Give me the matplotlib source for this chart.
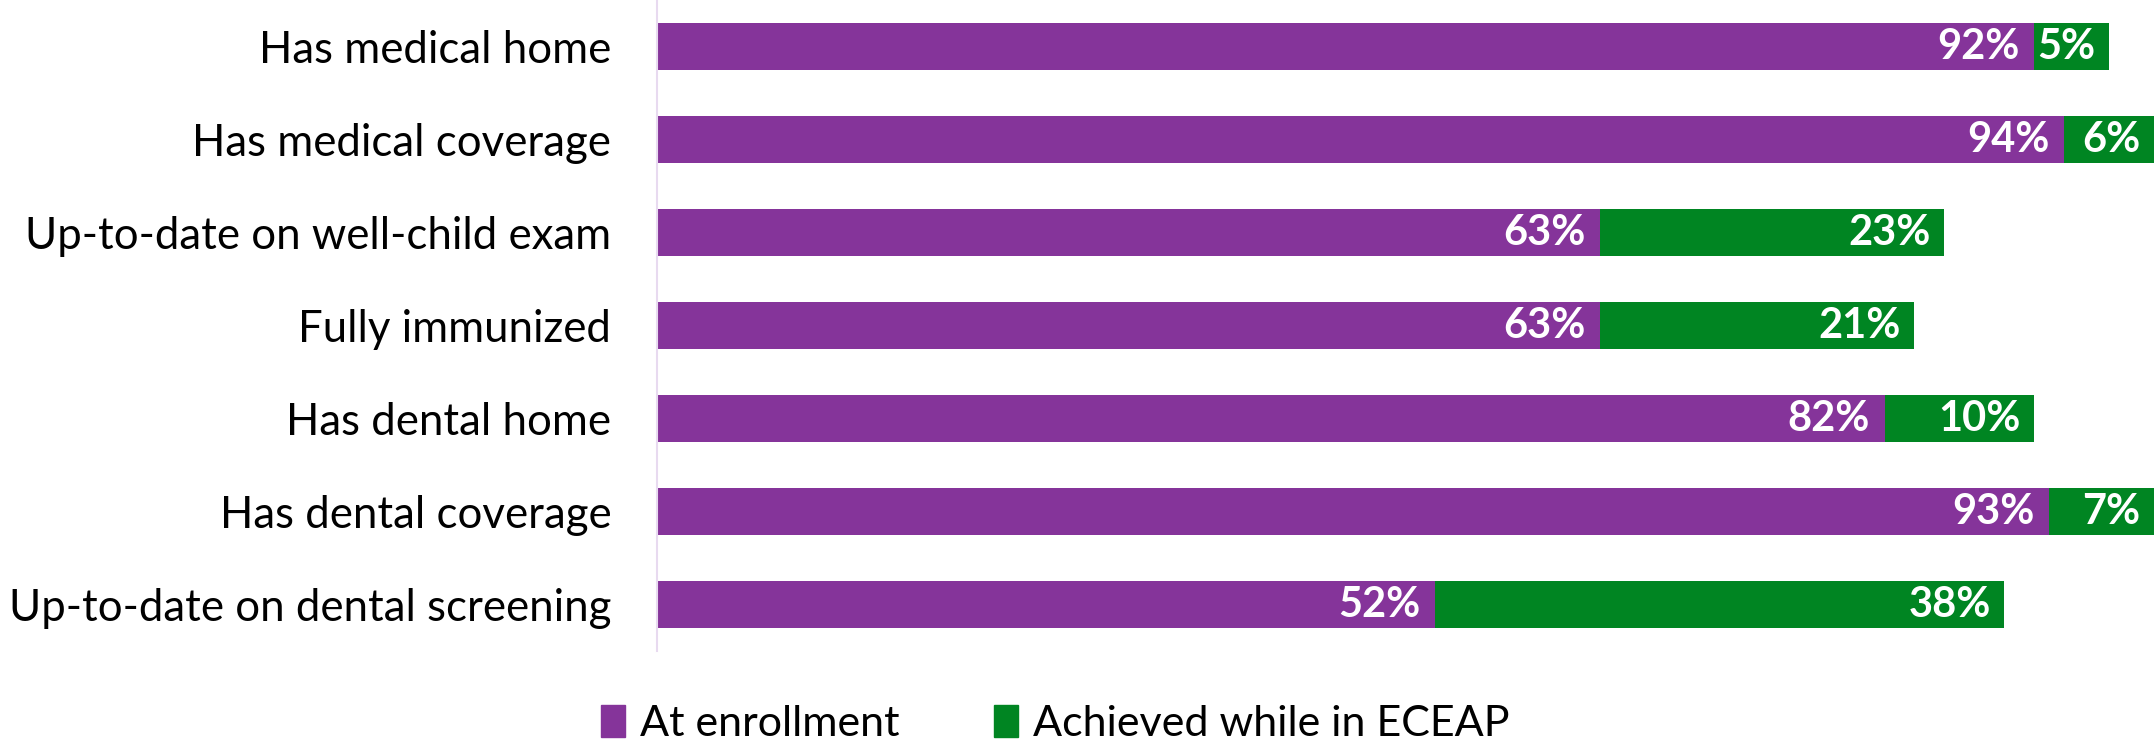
import matplotlib.pyplot as plt
from matplotlib.patches import Patch

plt.rcParams['font.family'] = ['Lato', 'DejaVu Sans']

categories = ['Has medical home', 'Has medical coverage', 'Up-to-date on well-child exam',
              'Fully immunized', 'Has dental home', 'Has dental coverage',
              'Up-to-date on dental screening']
at_enrollment = [92, 94, 63, 63, 82, 93, 52]
achieved = [5, 6, 23, 21, 10, 7, 38]

purple = '#85349A'
green = '#008522'

fig = plt.figure(figsize=(21.54, 7.45), dpi=100)
ax = fig.add_axes([0.305, 0.126, 0.695, 0.874])

y = list(range(len(categories)))
ax.barh(y, at_enrollment, height=0.5, color=purple)
ax.barh(y, achieved, left=at_enrollment, height=0.5, color=green)

for i in y:
    ax.text(at_enrollment[i] - 1.0, i, f'{at_enrollment[i]}%', ha='right', va='center',
            color='white', fontsize=30, fontweight='bold')
    ax.text(at_enrollment[i] + achieved[i] - 0.9, i, f'{achieved[i]}%', ha='right', va='center',
            color='white', fontsize=30, fontweight='bold')

ax.set_xlim(0, 100)
ax.set_ylim(6.5, -0.5)
ax.set_yticks(y)
ax.set_yticklabels(categories, fontsize=31.5)
ax.tick_params(axis='y', length=0, pad=33)
ax.set_xticks([])
for s in ['top', 'right', 'bottom']:
    ax.spines[s].set_visible(False)
ax.spines['left'].set_color('#E8DAF0')
ax.spines['left'].set_linewidth(1.5)

handles = [Patch(color=purple, label='At enrollment'),
           Patch(color=green, label='Achieved while in ECEAP')]
fig.legend(handles=handles, loc='center', bbox_to_anchor=(0.49, 0.028), ncol=2,
           frameon=False, fontsize=31, handlelength=0.55, handleheight=0.75,
           handletextpad=0.35, columnspacing=2.2)

fig.savefig('out.png', dpi=100)
